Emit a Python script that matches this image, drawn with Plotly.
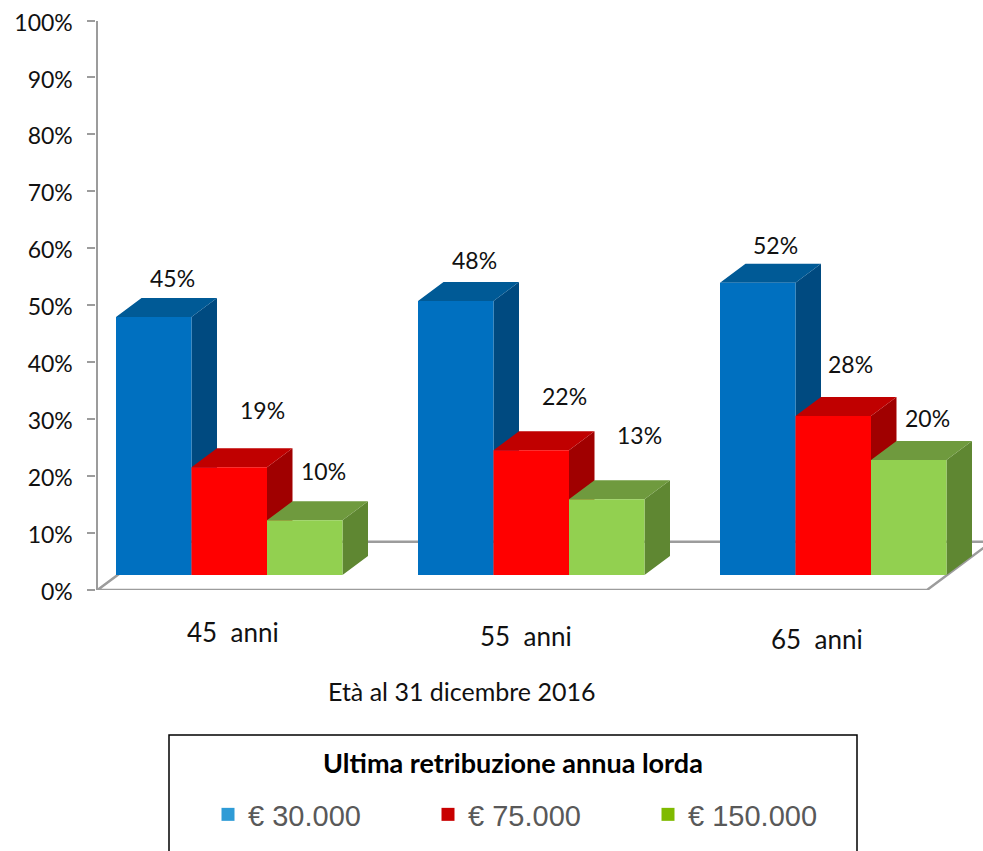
import plotly.graph_objects as go

# ---- data ----
ages = ["45  anni", "55  anni", "65  anni"]
series_names = ["€ 30.000", "€ 75.000", "€ 150.000"]
heights_30 = [45.3, 48.1, 51.3]
heights_75 = [18.9, 21.9, 27.9]
heights_150 = [9.6, 13.3, 20.2]
labels_30 = ["45%", "48%", "52%"]
labels_75 = ["19%", "22%", "28%"]
labels_150 = ["10%", "13%", "20%"]
y_ticks = [0, 10, 20, 30, 40, 50, 60, 70, 80, 90, 100]
y_tick_labels = [f"{v}%" for v in y_ticks]

# ---- style ----
W, H = 983, 851
front = ["#0070C0", "#FF0000", "#92D050"]
top = ["#005A96", "#C00000", "#6F9A3E"]
side = ["#004A80", "#A00000", "#5F8732"]
legend_colors = ["#2E9BD6", "#C80000", "#7FBA00"]
axis_grey = "#9C9C9C"
FONT = "Lato, Carlito, Calibri, sans-serif"

# pixel frame of the chart
AX_L, Y0, Y100 = 97.5, 590.0, 20.5
PITCH = 302.0
FIRST_CENTER = 229.25
PX_PER_UNIT = (Y0 - Y100) / 100

def xdata(px):
    return (px - FIRST_CENTER) / PITCH

def xp(px):
    return px / W

def yp(px):
    return 1 - px / H

x_range = [xdata(AX_L), xdata(W)]
y_domain = [yp(Y0), yp(Y100)]
floor = 15 / PX_PER_UNIT
dx = 25.5 / PITCH
dy = 19 / PX_PER_UNIT
floor_full = 48.3 / PX_PER_UNIT
bar_w = 0.25

heights = [heights_30, heights_75, heights_150]
labels = [labels_30, labels_75, labels_150]
groups = list(range(len(ages)))

fig = go.Figure()

# floor outline
fd = floor_full * PX_PER_UNIT * (25.5 / 19) / PITCH
floor_right = xdata(927)
fig.add_trace(go.Scatter(
    x=[x_range[0], x_range[0] + fd, floor_right + fd, floor_right, x_range[0]],
    y=[0, floor_full, floor_full, 0, 0],
    mode="lines", line=dict(color=axis_grey, width=2.5), showlegend=False, hoverinfo="skip"))

# side and top faces, back to front
for i, vals in enumerate(heights):
    sx, sy, tx, ty = [], [], [], []
    for g, v in zip(groups, vals):
        L = g + (i - 1.5) * bar_w
        R = L + bar_w
        b = floor
        t = v + floor
        sx += [R, R + dx, R + dx, R, R, None]
        sy += [b, b + dy, t + dy, t, b, None]
        tx += [L, L + dx, R + dx, R, L, None]
        ty += [t, t + dy, t + dy, t, t, None]
    fig.add_trace(go.Scatter(x=sx, y=sy, mode="lines", fill="toself", fillcolor=side[i],
                             line=dict(width=0, color=side[i]), showlegend=False, hoverinfo="skip"))
    fig.add_trace(go.Scatter(x=tx, y=ty, mode="lines", fill="toself", fillcolor=top[i],
                             line=dict(width=0, color=top[i]), showlegend=False, hoverinfo="skip"))

# front faces, on an overlaid subplot so they hide the neighbouring side faces
for i, vals in enumerate(heights):
    fig.add_trace(go.Bar(x=groups, y=vals, name=series_names[i], marker=dict(color=front[i], line=dict(width=0)),
                         xaxis="x2", yaxis="y2", showlegend=False))

# legend entries
for i, name in enumerate(series_names):
    fig.add_trace(go.Scatter(x=[None], y=[None], mode="markers", name=name,
                             marker=dict(symbol="square", size=13, color=legend_colors[i])))

# data labels
label_px = [[(172, 278), (474, 260), (775, 245)],
            [(262, 410), (564, 396), (850, 364)],
            [(323, 471), (639, 435), (927, 418)]]
anns = []
for i in range(3):
    for g in groups:
        px, py = label_px[i][g]
        anns.append(dict(text=labels[i][g], xref="paper", yref="paper", x=xp(px), y=yp(py),
                         showarrow=False, xanchor="center", yanchor="middle",
                         font=dict(family=FONT, size=23, color="#111111")))
# category labels
for txt, (px, py) in zip(ages, [(233, 632), (526, 636), (817, 639)]):
    anns.append(dict(text=txt.replace("  ", "&nbsp;&nbsp;"), xref="paper", yref="paper", x=xp(px), y=yp(py),
                     showarrow=False, xanchor="center", yanchor="middle",
                     font=dict(family=FONT, size=26, color="#111111")))
anns.append(dict(text="Età al 31 dicembre 2016", xref="paper", yref="paper", x=xp(461), y=yp(691),
                 showarrow=False, xanchor="center", yanchor="middle",
                 font=dict(family=FONT, size=25, color="#111111")))
anns.append(dict(text="<b>Ultima retribuzione annua lorda</b>", xref="paper", yref="paper", x=xp(513), y=yp(762),
                 showarrow=False, xanchor="center", yanchor="middle",
                 font=dict(family=FONT, size=27, color="black")))

fig.update_layout(
    width=W, height=H, margin=dict(l=0, r=0, t=0, b=0),
    paper_bgcolor="white", plot_bgcolor="rgba(0,0,0,0)",
    barmode="group", bargap=0.25, bargroupgap=0,
    annotations=anns,
    xaxis=dict(domain=[xp(AX_L), 1], range=x_range, visible=False, fixedrange=True, automargin=False),
    yaxis=dict(domain=y_domain, range=[0, 100], tickvals=y_ticks, ticktext=y_tick_labels,
               showgrid=False, zeroline=False, showline=True, linecolor=axis_grey, linewidth=2.2,
               ticks="outside", ticklen=8, tickwidth=1.5, tickcolor=axis_grey, automargin=False,
               ticklabelstandoff=10, ticklabelshift=2, tickfont=dict(family=FONT, size=23, color="#111111"), fixedrange=True),
    xaxis2=dict(overlaying="x", range=x_range, visible=False, fixedrange=True, anchor="y2", automargin=False),
    yaxis2=dict(overlaying="y", range=[-floor, 100 - floor], visible=False, fixedrange=True, anchor="x2", automargin=False),
    shapes=[dict(type="rect", xref="paper", yref="paper", x0=xp(169), x1=xp(857), y0=yp(870), y1=yp(735),
                 line=dict(color="black", width=1.5), fillcolor="white", layer="below")],
    legend=dict(orientation="h", xref="paper", yref="paper", x=xp(208), y=yp(789), xanchor="left", yanchor="top",
                bgcolor="rgba(0,0,0,0)", borderwidth=0, entrywidth=175, entrywidthmode="pixels",
                traceorder="normal",
                font=dict(family="Liberation Sans, Arial, sans-serif", size=29, color="#595959")),
)

fig.write_html("out.html", config={"displayModeBar": False},
               post_script="document.body.style.margin='0';document.body.style.overflow='hidden';")
